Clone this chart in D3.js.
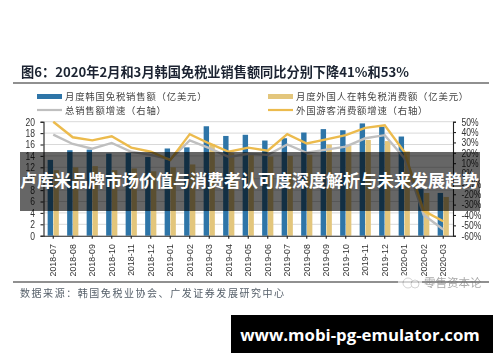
<!DOCTYPE html>
<html lang="zh">
<head>
<meta charset="utf-8">
<script src="https://cdn.jsdelivr.net/npm/d3@7/dist/d3.min.js"></script>
<style>
html,body{margin:0;padding:0;background:#fff;overflow:hidden}
svg{display:block}
</style>
</head>
<body>
<svg id="chart" width="500" height="362"></svg>
<script>
const categories = ["2018-07","2018-08","2018-09","2018-10","2018-11","2018-12","2019-01","2019-02","2019-03","2019-04","2019-05","2019-06","2019-07","2019-08","2019-09","2019-10","2019-11","2019-12","2020-01","2020-02","2020-03"];
const koreaSales = [13.3,15,15.1,14.4,14.5,13.8,15.3,15.5,19.2,17.5,17.7,16.7,17.1,18.1,18.7,18.5,19.7,19.1,17.4,8.2,7.5];
const foreignSales = [11.5,12,12.2,11.5,11.8,11.3,12,12.5,16.1,14.5,14.2,13.9,14,14.2,16,15.8,16.8,16.6,14.8,7.5,6.8];
const totalGrowth = [37.5,28.5,24,29.5,21,18,13.5,32,24.5,16,19,18,28,20,23,26,34,37,15,-40,-54];
const foreignGrowth = [50,35,32,36,25,21,13,38,29,21,25,22,38,29,33,37,44,46.5,21,-36,-46];
const leftTicks = [0,2,4,6,8,10,12,14,16,18,20];
const rightTicks = [-60,-50,-40,-30,-20,-10,0,10,20,30,40,50];

const titleText = "图6：2020年2月和3月韩国免税业销售额同比分别下降41%和53%";
const legendItems = ["月度韩国免税销售额（亿美元）","总销售额增速（右轴）","月度外国人在韩免税消费额（亿美元）","外国游客消费额增速（右轴）"];
const sourceText = "数据来源：韩国免税业协会、广发证券发展研究中心";
const watermarkText = "零售资本论";
const overlayText = "卢库米品牌市场价值与消费者认可度深度解析与未来发展趋势";
const bannerText = "www.mobi-pg-emulator.com";

const BLUE = "#2e75a8", GOLD = "#e3c67c", GRAY = "#bfbfbf", LINEGOLD = "#ecbb4e";
const CJK = "'Noto Sans CJK SC','Noto Sans',sans-serif";
const SANS = "'Liberation Sans',Arial,sans-serif";

const svg = d3.select("#chart");
const defs = svg.append("defs");
defs.append("filter").attr("id","soft").attr("x","-5%").attr("y","-5%").attr("width","110%").attr("height","110%")
  .append("feGaussianBlur").attr("stdDeviation",0.45);

const doc = svg.append("g").attr("filter","url(#soft)");
doc.append("rect").attr("width",500).attr("height",362).attr("fill","#fff");

const L = 43.5, R = 453, T = 121.7, B = 235.7;
const x = d3.scaleBand().domain(categories).range([L,R]);
const yL = d3.scaleLinear().domain([0,20]).range([B,T]);
const yR = d3.scaleLinear().domain([-60,50]).range([B,T]);

// title and rules
doc.append("text").attr("x",21).attr("y",77).attr("font-family",CJK).attr("font-weight",700)
  .attr("font-size",13.2).attr("fill","#1a2430").text(titleText);
doc.append("line").attr("x1",13).attr("x2",489).attr("y1",83).attr("y2",83).attr("stroke","#222").attr("stroke-width",1.2);
doc.append("line").attr("x1",13).attr("x2",489).attr("y1",282).attr("y2",282).attr("stroke","#222").attr("stroke-width",1.2);

// legend
const legendG = doc.append("g").attr("font-family",CJK).attr("font-size",9.4).attr("fill","#444").attr("letter-spacing",0.8);
const lx = [37,37,268,268], ly = [96.5,110,96.5,110];
legendG.append("rect").attr("x",lx[0]).attr("y",ly[0]-2.5).attr("width",25).attr("height",5).attr("fill",BLUE);
legendG.append("line").attr("x1",lx[1]).attr("x2",lx[1]+25).attr("y1",ly[1]).attr("y2",ly[1]).attr("stroke",GRAY).attr("stroke-width",2.2);
legendG.append("rect").attr("x",lx[2]).attr("y",ly[2]-2.5).attr("width",25).attr("height",5).attr("fill",GOLD);
legendG.append("line").attr("x1",lx[3]).attr("x2",lx[3]+25).attr("y1",ly[3]).attr("y2",ly[3]).attr("stroke",LINEGOLD).attr("stroke-width",2.2);
legendItems.forEach((t,i)=>{
  legendG.append("text").attr("x",lx[i]+28).attr("y",ly[i]+3.5).text(t);
});

// grid
doc.append("g").selectAll("line").data(leftTicks.filter(d=>d>0)).join("line")
  .attr("x1",L).attr("x2",R).attr("y1",d=>yL(d)).attr("y2",d=>yL(d))
  .attr("stroke","#d9d9d9").attr("stroke-width",1);

// bars
const bw = 5.4;
doc.append("g").selectAll("rect").data(categories).join("rect")
  .attr("x",d=>x(d)+x.bandwidth()/2-bw-0.2).attr("width",bw)
  .attr("y",(d,i)=>yL(koreaSales[i])).attr("height",(d,i)=>B-yL(koreaSales[i])).attr("fill",BLUE);
doc.append("g").selectAll("rect").data(categories).join("rect")
  .attr("x",d=>x(d)+x.bandwidth()/2+0.2).attr("width",bw)
  .attr("y",(d,i)=>yL(foreignSales[i])).attr("height",(d,i)=>B-yL(foreignSales[i])).attr("fill",GOLD);

// lines
const lineFn = d3.line().x((d,i)=>x(categories[i])+x.bandwidth()/2).y(d=>yR(d));
doc.append("path").datum(totalGrowth).attr("d",lineFn).attr("fill","none").attr("stroke",GRAY).attr("stroke-width",2.4);
doc.append("path").datum(foreignGrowth).attr("d",lineFn).attr("fill","none").attr("stroke",LINEGOLD).attr("stroke-width",2.4);

// axes
const axL = doc.append("g").attr("transform",`translate(${L},0)`)
  .call(d3.axisLeft(yL).tickValues(leftTicks).tickSize(3).tickPadding(5.5));
const axR = doc.append("g").attr("transform",`translate(${R},0)`)
  .call(d3.axisRight(yR).tickValues(rightTicks).tickSize(3).tickPadding(5.5).tickFormat(d=>d+"%"));
const axB = doc.append("g").attr("transform",`translate(0,${B})`)
  .call(d3.axisBottom(x).tickSize(3).tickSizeOuter(0));
[axL,axR,axB].forEach(a=>{
  a.selectAll("path,line").attr("stroke","#222").attr("stroke-width",1.1);
  a.selectAll("text").attr("font-family",SANS).attr("fill","#333");
});
axL.selectAll("text").attr("font-size",10.4);
axR.selectAll("text").attr("font-size",10.4);
axB.selectAll("text").attr("font-size",8.8)
  .attr("transform","rotate(-90)").attr("text-anchor","end").attr("x",-8.5).attr("y",0).attr("dy","0.32em");
// the reference's axis digits are horizontally condensed
function condense(sel, k){
  sel.each(function(){
    const w = this.getComputedTextLength();
    d3.select(this).attr("textLength",w*k).attr("lengthAdjust","spacingAndGlyphs");
  });
}
condense(axL.selectAll("text"),0.82);
condense(axR.selectAll("text"),0.82);

// source
doc.append("text").attr("x",20).attr("y",297).attr("font-family","'Noto Sans CJK SC',sans-serif")
  .attr("font-size",10).attr("letter-spacing",1.55).attr("fill","#56606a").text(sourceText);

// watermark
const wm = doc.append("g").attr("opacity",0.62);
wm.append("rect").attr("x",398).attr("y",275).attr("width",24).attr("height",15).attr("fill","#fff");
wm.append("circle").attr("cx",408).attr("cy",283).attr("r",5).attr("fill","#fff").attr("stroke","#aaa").attr("stroke-width",0.8);
wm.append("circle").attr("cx",415).attr("cy",284).attr("r",4).attr("fill","#fff").attr("stroke","#aaa").attr("stroke-width",0.8);
wm.append("text").attr("x",424).attr("y",287).attr("font-family",CJK).attr("font-size",11.5).attr("fill","#777").text(watermarkText);

// overlay band and headline
svg.append("rect").attr("x",20).attr("y",152).attr("width",460).attr("height",59).attr("fill","#000").attr("opacity",0.6);
svg.append("text").attr("x",249.5).attr("y",187).attr("text-anchor","middle").attr("font-family",CJK)
  .attr("font-weight",700).attr("font-size",17).attr("fill","#fff").text(overlayText);

// bottom banner
svg.append("rect").attr("x",231).attr("y",315).attr("width",262).attr("height",38).attr("fill","#000");
svg.append("text").attr("x",360).attr("y",341).attr("text-anchor","middle").attr("font-family","'Open Sans',sans-serif")
  .attr("font-weight",700).attr("font-size",16.8).attr("fill","#fff").text(bannerText);
</script>
</body>
</html>
